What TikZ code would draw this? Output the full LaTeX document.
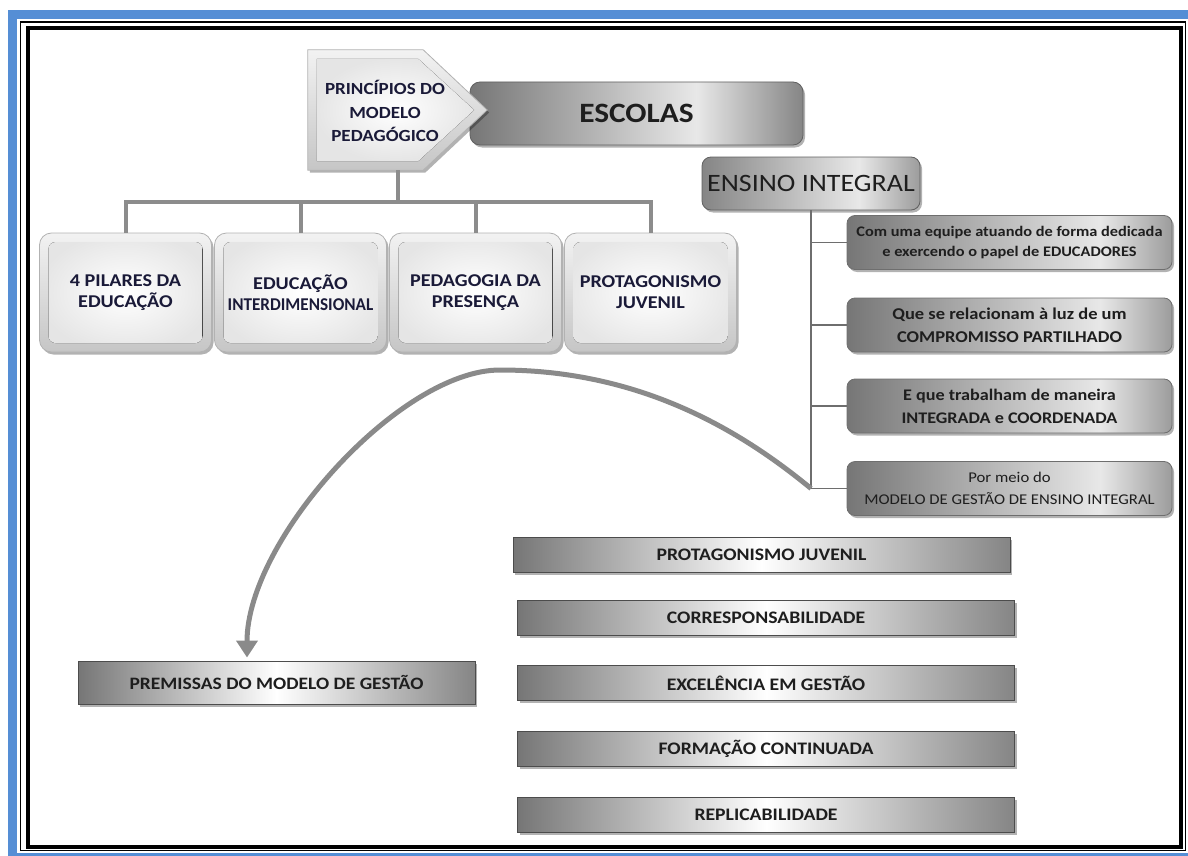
\documentclass[tikz,border=0pt]{standalone}
\usepackage{fontspec}
\setmainfont{Carlito}[FakeStretch=1.12]
\usetikzlibrary{shadows,arrows.meta,calc}
\definecolor{frameblue}{HTML}{558ED5}
\definecolor{treegray}{HTML}{8C8C8C}
\definecolor{thingray}{HTML}{6E6E6E}
\definecolor{navytext}{HTML}{1A1A38}
\definecolor{darktext}{HTML}{1E1E1E}
\definecolor{sgA}{HTML}{767676}
\definecolor{sgB}{HTML}{858585}
\definecolor{sgL}{HTML}{E8E8E8}
\definecolor{sgR}{HTML}{9C9C9C}
\definecolor{arrowgray}{HTML}{8A8A8A}
\pgfdeclarehorizontalshading{barshade}{100bp}{color(0bp)=(sgA); color(25bp)=(sgA); color(50bp)=(white); color(75bp)=(sgB); color(100bp)=(sgB)}
\pgfdeclarehorizontalshading{escshade}{100bp}{color(0bp)=(sgA); color(25bp)=(sgA); color(59bp)=(sgL); color(75bp)=(sgB); color(100bp)=(sgB)}
\pgfdeclarehorizontalshading{ensshade}{100bp}{color(0bp)=(sgB); color(25bp)=(sgB); color(61bp)=(sgL); color(75bp)=(sgR); color(100bp)=(sgR)}
\pgfdeclarehorizontalshading{boxshade}{100bp}{color(0bp)=(sgA); color(25bp)=(sgA); color(64bp)=(sgL); color(75bp)=(sgR); color(100bp)=(sgR)}
\begin{document}
\begin{tikzpicture}[x=1pt,y=-1pt,
  softshadow/.style={drop shadow={shadow xshift=2pt,shadow yshift=-2.5pt,opacity=0.3,fill=black}},
  bevelbox/.style={rounded corners=12pt, draw=gray!60, line width=0.8pt,
    top color=gray!10, bottom color=gray!45, softshadow,
    minimum width=172, minimum height=119, inner sep=2pt,
    font=\bfseries\fontsize{18}{21}\selectfont, text=navytext, align=center,
    path picture={\fill[rounded corners=7pt, inner color=white, outer color=gray!20]
      ([shift={(9pt,9pt)}]path picture bounding box.south west) rectangle
      ([shift={(-9pt,-9pt)}]path picture bounding box.north east);}},
  escbox/.style={rounded corners=10pt, draw=gray!75!black, line width=0.8pt,
    shading=escshade, softshadow, minimum width=333, minimum height=63,
    font=\bfseries\fontsize{28}{30}\selectfont, text=darktext},
  ensbox/.style={rounded corners=9pt, draw=gray!75!black, line width=0.8pt,
    shading=ensshade, softshadow, minimum width=218, minimum height=53,
    font=\fontsize{25}{28}\selectfont, text=darktext},
  rbox/.style={rounded corners=8pt, draw=thingray, line width=0.8pt,
    shading=boxshade, softshadow, minimum width=325, minimum height=54,
    text=darktext, align=center},
  listbar/.style={draw=gray!60!black, line width=1pt, shading=barshade, softshadow,
    minimum width=497, minimum height=35, inner sep=0pt,
    font=\bfseries\fontsize{17.6}{19}\selectfont, text=darktext},
  treeline/.style={draw=treegray, line width=4pt},
  thinline/.style={draw=thingray, line width=1.3pt},
  curvearrow/.style={draw=arrowgray, line width=5pt, -{Triangle[length=17pt,width=21pt]}}
]
\useasboundingbox (0,0) rectangle (1188,856);
\begin{scope}
\clip (0,0) rectangle (1188,856);
\draw[frameblue, line width=9pt] (12.5,14.5) rectangle (1210,857);
\end{scope}
\draw[black, line width=1.5pt] (20.5,22) rectangle (1185.5,850.5);
\draw[black, line width=4pt] (27.5,28.5) rectangle (1181,847);

% ESCOLAS
\node[escbox] (esc) at (636.5,113.5) {ESCOLAS};

% pentagon
\node[minimum width=179, minimum height=120, inner sep=0pt] (princ) at (397.5,110) {};
\path[draw=gray!60, line width=0.8pt, top color=gray!10, bottom color=gray!45, softshadow]
  (princ.north west) -- ($(princ.north east)+(-64,0)$) -- (princ.east)
  -- ($(princ.south east)+(-64,0)$) -- (princ.south west) -- cycle;
\fill[inner color=white, outer color=gray!20]
  ($(princ.north west)+(9,9)$) -- ($(princ.north east)+(-69,9)$) -- ($(princ.east)+(-13,0)$)
  -- ($(princ.south east)+(-69,-9)$) -- ($(princ.south west)+(9,-9)$) -- cycle;
\node[font=\bfseries\fontsize{17}{23.5}\selectfont, text=navytext, align=center] (princtext) at (385,111)
  {PRINCÍPIOS DO\\MODELO\\PEDAGÓGICO};

% four pillars
\node[bevelbox] (b1) at (125.5,292.5) {4 PILARES DA\\EDUCAÇÃO};
\node[bevelbox] (b2) at (300.5,292.5) {EDUCAÇÃO\\\scalebox{0.85}[1]{INTERDIMENSIONAL}};
\node[bevelbox] (b3) at (475.5,292.5) {PEDAGOGIA DA\\PRESENÇA};
\node[bevelbox] (b4) at (650.5,292.5) {PROTAGONISMO\\JUVENIL};

\coordinate (bar) at (0,202);
\draw[treeline] (princ.south) -- (princ.south |- bar);
\draw[treeline] (b1.north) -- (b1.north |- bar) -- (b4.north |- bar) -- (b4.north);
\draw[treeline] (b2.north) -- (b2.north |- bar);
\draw[treeline] (b3.north) -- (b3.north |- bar);

% ENSINO INTEGRAL
\node[ensbox] (ens) at (811,183.5) {ENSINO INTEGRAL};
\node[rbox, font=\bfseries\fontsize{14.6}{20}\selectfont] (r1) at (1009.5,242.5)
  {Com uma equipe atuando de forma dedicada\\e exercendo o papel de EDUCADORES};
\node[rbox, font=\bfseries\fontsize{16.5}{23}\selectfont] (r2) at (1009.5,325)
  {Que se relacionam à luz de um\\COMPROMISSO PARTILHADO};
\node[rbox, font=\bfseries\fontsize{16.2}{23}\selectfont] (r3) at (1009.5,406)
  {E que trabalham de maneira\\INTEGRADA e COORDENADA};
\node[rbox, font=\fontsize{14.9}{22}\selectfont] (r4) at (1009.5,488.5)
  {Por meio do\\MODELO DE GESTÃO DE ENSINO INTEGRAL};

\coordinate (cstart) at (ens.south |- r4.west);
\draw[thinline] (ens.south) -- (cstart);
\draw[thinline] (ens.south |- r1.west) -- (r1.west);
\draw[thinline] (ens.south |- r2.west) -- (r2.west);
\draw[thinline] (ens.south |- r3.west) -- (r3.west);
\draw[thinline] (cstart) -- (r4.west);

% premissas and list
\node[listbar, minimum width=397, minimum height=43, font=\bfseries\fontsize{17.4}{19}\selectfont] (prem) at (276.5,682.5) {PREMISSAS DO MODELO DE GESTÃO};
\node[listbar] (l1) at (761.5,554.5) {PROTAGONISMO JUVENIL};
\node[listbar] (l2) at (766,618) {CORRESPONSABILIDADE};
\node[listbar] (l3) at (766,683) {EXCELÊNCIA EM GESTÃO};
\node[listbar] (l4) at (766,749) {FORMAÇÃO CONTINUADA};
\node[listbar] (l5) at (766,815) {REPLICABILIDADE};

\coordinate (ptarget) at ($(prem.north)+(-29.5,-3)$);
\draw[curvearrow] (cstart) .. controls (740,430) and (640,370) .. (500,370)
  .. controls (400,370) and (247,540) .. (ptarget);
\end{tikzpicture}
\end{document}
